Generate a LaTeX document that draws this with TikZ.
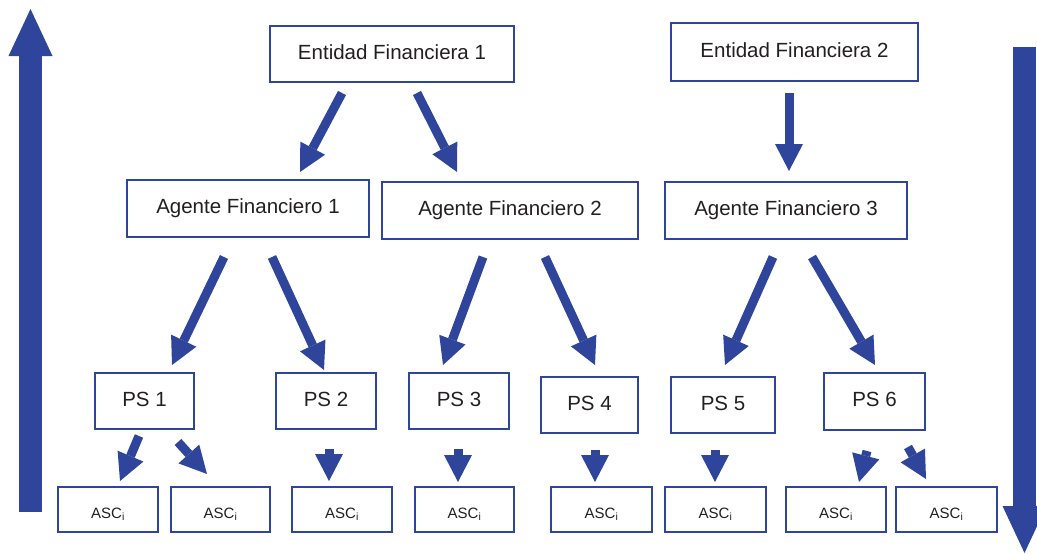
\documentclass[tikz,border=0pt]{standalone}
\usepackage{fontspec}
\setmainfont{Liberation Sans}
\usetikzlibrary{arrows.meta,calc}
\definecolor{navy}{HTML}{2E459B}
\definecolor{ink}{HTML}{231F20}
\begin{document}
\begin{tikzpicture}[x=1pt,y=-1pt,
 box/.style={draw=navy,line width=1.5pt,inner sep=0pt,outer sep=0pt,text=ink,font=\fontsize{20.5}{24}\selectfont,text height=15pt,text depth=4.5pt},
 ascbox/.style={box,minimum width=100pt,minimum height=45pt,font=\fontsize{15}{18}\selectfont,text height=17.4pt,text depth=0pt},
 arr/.style={draw=navy,line width=9pt,-{Triangle[length=27pt,width=28pt,line width=0pt]}},
 bigarr/.style={draw=navy,line width=23pt,-{Triangle[length=47pt,width=44pt,line width=0pt]}}]
\useasboundingbox (0,0) rectangle (1037,554);
% top level
\node[box,minimum width=244pt,minimum height=56pt] (ef1) at (392,54) {Entidad Financiera 1};
\node[box,minimum width=247pt,minimum height=58pt] (ef2) at (794.5,52) {Entidad Financiera 2};
% agents
\node[box,minimum width=242pt,minimum height=57pt] (af1) at (248,208.5) {Agente Financiero 1};
\node[box,minimum width=256pt,minimum height=57pt] (af2) at (510,210.5) {Agente Financiero 2};
\node[box,minimum width=242pt,minimum height=57pt] (af3) at (786,210.5) {Agente Financiero 3};
% PS
\node[box,minimum width=99pt,minimum height=56pt] (ps1) at (144.5,401) {PS 1};
\node[box,minimum width=100pt,minimum height=56pt] (ps2) at (326,401) {PS 2};
\node[box,minimum width=100pt,minimum height=56pt] (ps3) at (459,401) {PS 3};
\node[box,minimum width=97pt,minimum height=56pt] (ps4) at (589.5,405) {PS 4};
\node[box,minimum width=104pt,minimum height=56pt] (ps5) at (723,405) {PS 5};
\node[box,minimum width=101pt,minimum height=57pt] (ps6) at (874.5,401.5) {PS 6};
% ASC
\node[ascbox] (a1) at (108,509.5) {ASC\textsubscript{i}};
\node[ascbox,minimum width=99pt] (a2) at (220.5,509.5) {ASC\textsubscript{i}};
\node[ascbox] (a3) at (342,509.5) {ASC\textsubscript{i}};
\node[ascbox,minimum width=99pt] (a4) at (464.5,509.5) {ASC\textsubscript{i}};
\node[ascbox,minimum width=101pt] (a5) at (601.5,509.5) {ASC\textsubscript{i}};
\node[ascbox,minimum width=101pt] (a6) at (715.5,509.5) {ASC\textsubscript{i}};
\node[ascbox] (a7) at (836,509.5) {ASC\textsubscript{i}};
\node[ascbox,minimum width=101pt] (a8) at (946.5,509.5) {ASC\textsubscript{i}};
% arrows level 1
\draw[arr] ($(ef1.south)+(-50,11)$) -- ($(af1.north)+(52,-8)$);
\draw[arr] ($(ef1.south)+(25,11)$) -- ($(af2.north)+(-53,-10)$);
\draw[arr] ($(ef2.south)+(-5.5,12)$) -- ($(af3.north)+(3,-11)$);
% arrows level 2
\draw[arr] ($(af1.south)+(-24,20)$) -- ($(ps1.north)+(27.5,-8)$);
\draw[arr] ($(af1.south)+(24,20)$) -- ($(ps2.north)+(-2,-3)$);
\draw[arr] ($(af2.south)+(-27,18)$) -- ($(ps3.north)+(-16,-8)$);
\draw[arr] ($(af2.south)+(35,18)$) -- ($(ps4.north)+(5.5,-12)$);
\draw[arr] ($(af3.south)+(-13,18)$) -- ($(ps5.north)+(2,-12)$);
\draw[arr] ($(af3.south)+(26,18)$) -- ($(ps6.north)+(0.5,-8)$);
% arrows level 3
\draw[arr] ($(ps1.south)+(-5.5,7)$) -- ($(a1.north)+(12,-6)$);
\draw[arr] ($(ps1.south)+(33.5,13)$) -- ($(a2.north)+(-13.5,-13)$);
\draw[arr] ($(ps2.south)+(3,20)$) -- ($(a3.north)+(-13,-6)$);
\draw[arr] ($(ps3.south)+(-1,20)$) -- ($(a4.north)+(-6.5,-5)$);
\draw[arr] ($(ps4.south)+(5.5,17)$) -- ($(a5.north)+(-6.5,-5)$);
\draw[arr] ($(ps5.south)+(-8,17)$) -- ($(a6.north)+(-0.5,-5)$);
\draw[arr] ($(ps6.south)+(-7.5,21)$) -- ($(a7.north)+(23,-5)$);
\draw[arr] ($(ps6.south)+(33.5,17)$) -- ($(a8.north)+(-20.5,-8)$);
% big side arrows
\coordinate (lb) at (30.5,512);
\coordinate (lt) at (30.5,9);
\coordinate (rt) at (1024.5,47);
\coordinate (rb) at (1024.5,553);
\draw[bigarr] (lb) -- (lt);
\draw[bigarr] (rt) -- (rb);
\end{tikzpicture}
\end{document}
